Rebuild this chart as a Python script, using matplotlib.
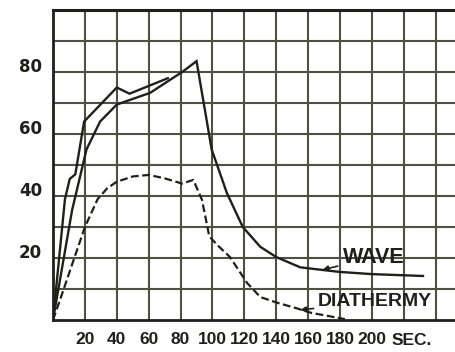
import numpy as np
import matplotlib
matplotlib.use("Agg")
import matplotlib.pyplot as plt
import matplotlib.transforms as mtransforms

plt.rcParams['font.family'] = ['Liberation Sans', 'DejaVu Sans']

# Curve data (time in sec, value)
wave_t = [0, 12, 21, 29.5, 40, 61, 72, 81, 90, 99.5, 109, 119, 130, 140, 155, 163, 180, 200, 232]
wave_v = [0, 35.5, 55, 64, 69.5, 73.3, 77, 80, 83.5, 55, 41, 30, 23.6, 20.3, 17, 16.5, 15.5, 14.8, 14.2]

upper_t = [0, 7.5, 10.5, 14, 19.5, 40, 48, 72]
upper_v = [0, 39, 45.5, 47, 64, 75, 73, 78]

dia_t = [0, 4.4, 20, 28, 34, 40, 50, 60, 70, 81, 88, 93.4, 98, 103, 111, 121.6, 130, 141, 152, 162, 183]
dia_v = [0, 6.5, 30, 39, 42.5, 44.6, 46.3, 46.8, 45.7, 44, 45.2, 38.8, 27, 24.2, 20.3, 12, 7.4, 5.5, 3.9, 2.3, 0.3]

x_ticks = [20, 40, 60, 80, 100, 120, 140, 160, 180, 200]
y_ticks = [20, 40, 60, 80]

ink = '#1f201a'
gridc = '#4e5043'

fig = plt.figure(figsize=(4.56, 3.52), dpi=100)
ax = fig.add_axes([53 / 456, 1 - 320 / 352, 1 - 53 / 456, 310 / 352])
ax.set_xlim(0, 252.7)
ax.set_ylim(0, 100)

# graph-paper grid
for gx in range(20, 241, 20):
    ax.axvline(gx, color=gridc, lw=1.5, zorder=1)
for gy in range(10, 100, 10):
    ax.axhline(gy, color=gridc, lw=1.5, zorder=1)
ax.axhline(100, color=ink, lw=2.2, zorder=1, clip_on=False)

for s in ['top', 'right']:
    ax.spines[s].set_visible(False)
ax.spines['left'].set_linewidth(2.0)
ax.spines['bottom'].set_linewidth(2.0)
ax.spines['left'].set_color(ink)
ax.spines['bottom'].set_color(ink)

ax.plot(wave_t, wave_v, color=ink, lw=1.7, zorder=3, solid_joinstyle='miter')
ax.plot(upper_t, upper_v, color=ink, lw=1.7, zorder=3, solid_joinstyle='miter')
ax.plot(dia_t, dia_v, color=ink, lw=1.6, dashes=(3.5, 1.6), zorder=3)

ax.set_xticks(x_ticks)
ax.set_xticklabels([str(v) for v in x_ticks])
ax.set_yticks(y_ticks)
ax.set_yticklabels([str(v) for v in y_ticks])
ax.tick_params(length=0, colors=ink)
ax.tick_params(axis='x', pad=9, labelsize=12.5)
ax.tick_params(axis='y', pad=8, labelsize=12)
for lab in ax.get_xticklabels():
    lab.set_fontweight('bold')
for lab in ax.get_yticklabels():
    lab.set_fontweight('bold')
    lab.set_family('DejaVu Sans')
    lab.set_verticalalignment('baseline')

trans = mtransforms.blended_transform_factory(ax.transData, ax.transAxes)
ax.text(212, -0.042, 'SEC.', transform=trans, ha='left', va='top',
        fontsize=12.5, fontweight='bold', color=ink)

ax.annotate('WAVE', xy=(169, 16.2), xytext=(182, 20.2), ha='left', va='center',
            fontsize=15.5, fontweight='bold', color=ink,
            arrowprops=dict(arrowstyle='-|>', color=ink, lw=1.2, mutation_scale=8,
                            shrinkA=2, shrinkB=0))
ax.annotate('DIATHERMY', xy=(155, 3.2), xytext=(166, 6.1), ha='left', va='center',
            fontsize=14, fontweight='bold', color=ink,
            arrowprops=dict(arrowstyle='-|>', color=ink, lw=1.2, mutation_scale=8,
                            shrinkA=1, shrinkB=0))

fig.savefig('out.png', dpi=100)
